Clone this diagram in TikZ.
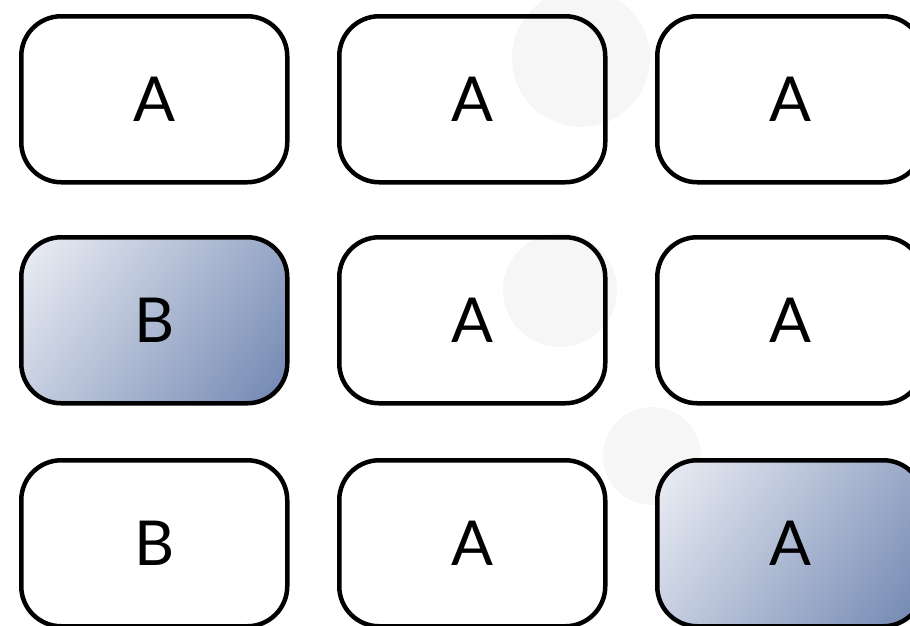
\documentclass[tikz,border=0pt]{standalone}
\usepackage{fontspec}
\setmainfont{Lato}
\definecolor{gradlight}{HTML}{F3F4F8}
\definecolor{graddark}{HTML}{6A81AE}
\definecolor{ghost}{HTML}{F6F6F6}
\pgfdeclareverticalshading{cellgrad}{100bp}{color(0bp)=(graddark); color(12bp)=(graddark); color(88bp)=(gradlight); color(100bp)=(gradlight)}
\begin{document}
\begin{tikzpicture}[x=1pt,y=-1pt,
  cell/.style={draw=black, line width=4.5pt, rounded corners=40pt, minimum width=266pt, minimum height=166pt, inner sep=0pt, anchor=north west, font=\fontsize{62}{62}\selectfont},
  shaded cell/.style={cell, shading=cellgrad, shading angle=54}]
\useasboundingbox (0,0) rectangle (910,625);
\fill[ghost] (581,58) circle (69);
\fill[ghost] (560,290) circle (57);
\fill[ghost] (652,456) circle (49);
\node[cell] (a1) at (19,14) {A};
\node[cell] (a2) at (337,14) {A};
\node[cell] (a3) at (655,14) {A};
\node[shaded cell] (b1) at (19,235) {B};
\node[cell] (b2) at (337,235) {A};
\node[cell] (b3) at (655,235) {A};
\node[cell] (c1) at (19,458) {B};
\node[cell] (c2) at (337,458) {A};
\node[shaded cell] (c3) at (655,458) {A};
\end{tikzpicture}
\end{document}
